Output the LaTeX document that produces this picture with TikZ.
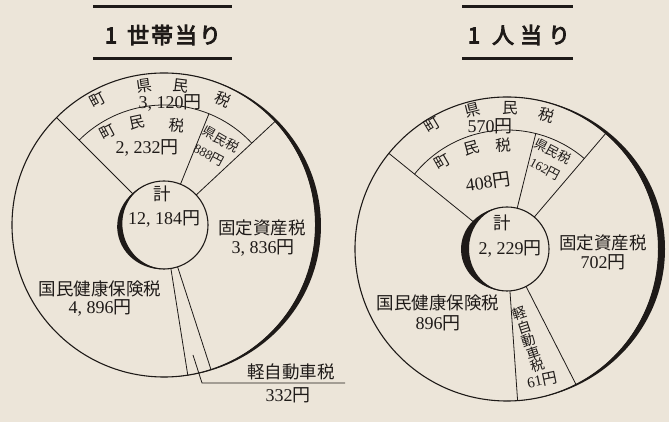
\documentclass[tikz,border=0pt]{standalone}
\usepackage{fontspec}
\setmainfont{Liberation Serif}
\newfontfamily\jp{Noto Sans CJK JP}
\newfontfamily\jpb[FakeBold=4]{Noto Sans CJK JP}
\usetikzlibrary{calc}
\definecolor{bg}{RGB}{236,229,217}
\definecolor{ink}{RGB}{30,26,24}
\newcommand\myyen{{\jp 円}}
\tikzset{
 lab/.style={inner sep=0pt, text=ink, font=\fontsize{17.5}{19}\selectfont\jp},
 band/.style={inner sep=0pt, text=ink, font=\fontsize{15.5}{18}\selectfont\jp},
 num/.style={inner sep=0pt, text=ink, font=\fontsize{18}{20}\selectfont},
 small/.style={inner sep=0pt, text=ink, font=\fontsize{13}{15}\selectfont\jp},
 smallnum/.style={inner sep=0pt, text=ink, font=\fontsize{13}{15}\selectfont},
 ttl/.style={inner sep=0pt, text=ink, font=\fontsize{22}{24}\selectfont\jpb},
 ln/.style={draw=ink, line width=0.8pt},
 circ/.style={draw=ink, line width=1.1pt},
 tline/.style={draw=ink, line width=3pt},
}
% crescent: center, radius, rotation, outer add, inner sub
\newcommand\crescent[5]{%
 \begin{scope}[shift={#1}, rotate=#3]
  \fill[ink] (0,#2) arc[start angle=90, end angle=-90, x radius=#2+#4, y radius=#2]
   arc[start angle=-90, end angle=90, x radius=#2-#5, y radius=#2] -- cycle;
 \end{scope}}
\begin{document}
\begin{tikzpicture}[x=1pt,y=1pt]
\fill[bg] (0,0) rectangle (669,422);
\useasboundingbox (0,0) rectangle (669,422);
\coordinate (L) at (164,197);
\coordinate (R) at (507,173);

% ---------- titles ----------
\draw[tline] (93,415) -- (232,415);
\draw[tline] (93,363) -- (232,363);
\node[ttl] (tL) at (163,387) {1\hspace{10pt}世\hspace{2pt}帯\hspace{2pt}当\hspace{2pt}り};
\draw[tline] (462,415) -- (573,415);
\draw[tline] (462,363) -- (573,363);
\node[ttl] (tR) at (519,387) {1\hspace{12pt}人\hspace{6pt}当\hspace{6pt}り};

% ---------- left diagram ----------
\draw[circ] (L) circle (152);
\crescent{(L)}{152}{-5}{5}{1}
\draw[circ] (L) circle (44);
\crescent{(L)}{44}{195}{3}{2.5}
\draw[ln] (L) ++(135:120) arc[start angle=135, end angle=43, radius=120];
\foreach \a in {135,43,-72,-81} \draw[ln] ($(L)+(\a:44)$) -- ($(L)+(\a:152)$);
\draw[ln] ($(L)+(68:44)$) -- ($(L)+(68:120)$);

\node[band, rotate=28] (l1) at ($(L)+(118:142)$) {町};
\node[band, rotate=8]  (l2) at ($(L)+(98:140)$) {県};
\node[band, rotate=-7] (l3) at ($(L)+(83:140)$) {民};
\node[band, rotate=-25] (l4) at ($(L)+(65:139)$) {税};
\node[num] (l5) at (170,319) {3, 120\myyen};

\node[band, rotate=28] (l6) at (108,290) {町};
\node[band, rotate=12] (l7) at (137,299) {民};
\node[band, rotate=-6] (l8) at (177,297) {税};
\node[num] (l9) at (147,274) {2, 232\myyen};

\node[small, rotate=-30] (l10) at (221,283) {県民税};
\node[smallnum, rotate=-28] (l11) at (209,267) {888\myyen};

\node[lab] (l12) at (162,228) {計};
\node[num] (l13) at (164,203) {12, 184\myyen};
\node[lab] (l14) at (262,194) {固定資産税};
\node[num] (l15) at (263,174) {3, 836\myyen};
\node[lab] (l16) at (100,133) {国民健康保険税};
\node[num] (l17) at (100,114) {4, 896\myyen};
\node[lab] (l18) at (291,50) {軽自動車税};
\node[num] (l19) at (288,27) {332\myyen};
\coordinate (k1) at (193,67);
\coordinate (k2) at (202,39);
\coordinate (k3) at (345,39);
\draw[ln] (k1) -- (k2) -- (k3);

% ---------- right diagram ----------
\draw[circ] (R) circle (152);
\crescent{(R)}{152}{0}{6}{1}
\draw[circ] (R) circle (42);
\crescent{(R)}{42}{182}{4}{4}
\draw[ln] (R) ++(141:119) arc[start angle=141, end angle=49.5, radius=119];
\foreach \a in {141,49.5,-63,-86} \draw[ln] ($(R)+(\a:42)$) -- ($(R)+(\a:152)$);
\draw[ln] ($(R)+(76:42)$) -- ($(R)+(76:119)$);

\node[band, rotate=31] (r1) at ($(R)+(121:145)$) {町};
\node[band, rotate=14] (r2) at ($(R)+(103.7:143)$) {県};
\node[band, rotate=-1] (r3) at ($(R)+(88.8:141)$) {民};
\node[band, rotate=-17] (r4) at ($(R)+(73.4:140)$) {税};
\node[num] (r5) at (490,296) {570\myyen};

\node[band, rotate=30] (r6) at (442,260) {町};
\node[band, rotate=15] (r7) at (472,274) {民};
\node[band, rotate=3] (r8) at (503,277) {税};
\node[num, rotate=8] (r9) at (488,240) {408\myyen};

\node[small, rotate=-28] (r10) at (553,271) {県民税};
\node[smallnum, rotate=-28] (r11) at (545,253) {162\myyen};

\node[lab] (r12) at (502,199) {計};
\node[num] (r13) at (510,173) {2, 229\myyen};
\node[lab] (r14) at (603,179) {固定資産税};
\node[num] (r15) at (603,160) {702\myyen};
\node[lab] (r16) at (438,119) {国民健康保険税};
\node[num] (r17) at (438,99) {896\myyen};

\node[small, font=\fontsize{14}{15}\selectfont\jp, rotate=18] (r18) at (520,109) {軽};
\node[small, font=\fontsize{14}{15}\selectfont\jp, rotate=18] (r19) at (525,95) {自};
\node[small, font=\fontsize{14}{15}\selectfont\jp, rotate=18] (r20) at (529,82) {動};
\node[small, font=\fontsize{14}{15}\selectfont\jp, rotate=18] (r21) at (534,69) {車};
\node[small, font=\fontsize{14}{15}\selectfont\jp, rotate=18] (r22) at (538,57) {税};
\node[smallnum, font=\fontsize{15}{17}\selectfont, rotate=12] (r23) at (542,42) {61\myyen};
\end{tikzpicture}
\end{document}
